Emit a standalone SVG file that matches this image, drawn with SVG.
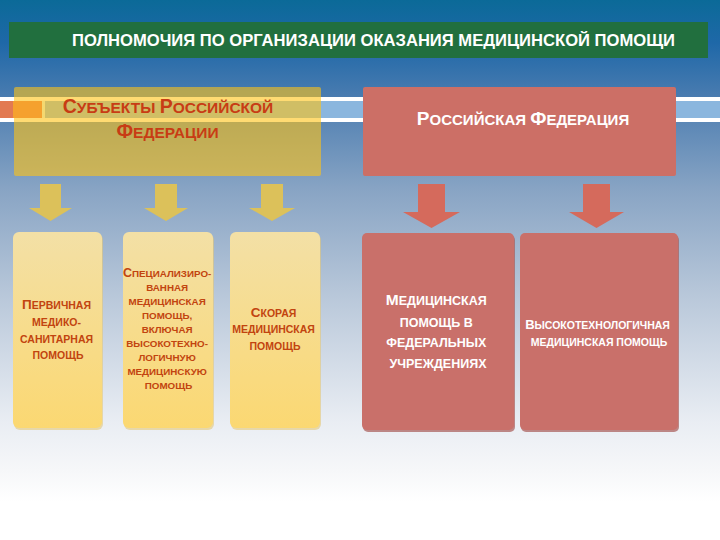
<svg xmlns="http://www.w3.org/2000/svg" width="720" height="540" viewBox="0 0 720 540">
  <defs>
    <linearGradient id="bg" x1="0" y1="0" x2="0" y2="1">
      <stop offset="0" stop-color="#0b6a98"/>
      <stop offset="0.08" stop-color="#1f68a8"/>
      <stop offset="0.18" stop-color="#4a7cb0"/>
      <stop offset="0.35" stop-color="#88a4c4"/>
      <stop offset="0.55" stop-color="#b9c8da"/>
      <stop offset="0.78" stop-color="#e9edf3"/>
      <stop offset="0.87" stop-color="#f6f7f9"/>
      <stop offset="0.93" stop-color="#ffffff"/>
    </linearGradient>
    <linearGradient id="yel" x1="0" y1="0" x2="0" y2="1">
      <stop offset="0" stop-color="#f3e0a6"/>
      <stop offset="1" stop-color="#fbd872"/>
    </linearGradient>
    <style>
      .t{font-family:"Liberation Sans",Arial,sans-serif;font-weight:bold;text-anchor:middle}
      .ytxt{fill:#c2440f}
      .wtxt{fill:#ffffff}
      .ybox{fill:url(#yel)}
      .yshadow{fill:#e4c878;opacity:0.6}
      .rbox{fill:#c9706a}
      .rshadow{fill:#a85a55;opacity:0.7}
      .yarrow{fill:#dcc15a}
      .rarrow{fill:#d56a5c}
    </style>
  </defs>

  <!-- background -->
  <rect x="0" y="0" width="720" height="540" fill="url(#bg)"/>

  <!-- decorative band -->
  <rect x="0" y="97" width="720" height="4" fill="#ffffff"/>
  <rect x="0" y="101" width="720" height="17" fill="#8ab6de"/>
  <rect x="0" y="118" width="720" height="4" fill="#ffffff"/>

  <!-- title -->
  <g id="title">
    <rect x="9" y="22" width="699" height="36" fill="#216f3e"/>
    <text class="t wtxt" x="373.5" y="46" font-size="17" textLength="603" lengthAdjust="spacingAndGlyphs">ПОЛНОМОЧИЯ ПО ОРГАНИЗАЦИИ ОКАЗАНИЯ МЕДИЦИНСКОЙ ПОМОЩИ</text>
  </g>

  <!-- left header -->
  <g id="subjects">
    <rect x="14" y="87" width="307" height="89" rx="2" fill="#ffc314" opacity="0.6"/>
    <rect x="0" y="101" width="13" height="17" fill="#e27a52"/>
    <rect x="13" y="101" width="29" height="17" fill="#f5a12e"/>
    <rect x="42" y="101" width="3" height="17" fill="#f4d870"/>
    <text class="t" fill="#c83c14" x="168" y="113" font-size="15.5"><tspan font-size="19.5">С</tspan>УБЪЕКТЫ <tspan font-size="19.5">Р</tspan>ОССИЙСКОЙ</text>
    <text class="t" fill="#c83c14" x="167.5" y="138" font-size="15.5"><tspan font-size="19.5">Ф</tspan>ЕДЕРАЦИИ</text>
  </g>

  <!-- right header -->
  <g id="federation">
    <rect x="363" y="87" width="313" height="89" rx="2" fill="#cc6f66"/>
    <text class="t wtxt" x="523" y="125" font-size="15"><tspan font-size="19">Р</tspan>ОССИЙСКАЯ <tspan font-size="19">Ф</tspan>ЕДЕРАЦИЯ</text>
  </g>

  <!-- connectors -->
  <g id="connectors">
    <polygon class="yarrow" points="40,184 61,184 61,208 72,208 50.5,221 29,208 40,208"/>
    <polygon class="yarrow" points="155,184 177,184 177,208 188,208 166,221 144,208 155,208"/>
    <polygon class="yarrow" points="261,184 283,184 283,208 295,208 272,221 249,208 261,208"/>
    <polygon class="rarrow" points="418,184 445,184 445,212 460,212 431.5,228 403,212 418,212"/>
    <polygon class="rarrow" points="583,184 610,184 610,212 624,212 596.5,228 569,212 583,212"/>
  </g>

  <!-- yellow boxes -->
  <g id="primary">
    <rect class="yshadow" x="14" y="234" width="89" height="196" rx="6"/>
    <rect class="ybox" x="13" y="232" width="89" height="196" rx="6"/>
    <text class="t ytxt" font-size="10.5">
      <tspan x="58" y="309"><tspan font-size="13.5">П</tspan>ЕРВИЧНАЯ</tspan>
      <tspan x="58" y="326">МЕДИКО-</tspan>
      <tspan x="58" y="343">САНИТАРНАЯ</tspan>
      <tspan x="58" y="359">ПОМОЩЬ</tspan>
    </text>
  </g>

  <g id="specialized">
    <rect class="yshadow" x="124" y="234" width="90" height="196" rx="6"/>
    <rect class="ybox" x="123" y="232" width="90" height="196" rx="6"/>
    <text class="t ytxt" font-size="9.8">
      <tspan x="168.5" y="277"><tspan font-size="12.5">С</tspan>ПЕЦИАЛИЗИРО-</tspan>
      <tspan x="168.5" y="291">ВАННАЯ</tspan>
      <tspan x="168.5" y="305">МЕДИЦИНСКАЯ</tspan>
      <tspan x="168.5" y="319">ПОМОЩЬ,</tspan>
      <tspan x="168.5" y="333">ВКЛЮЧАЯ</tspan>
      <tspan x="168.5" y="347">ВЫСОКОТЕХНО-</tspan>
      <tspan x="168.5" y="361">ЛОГИЧНУЮ</tspan>
      <tspan x="168.5" y="375">МЕДИЦИНСКУЮ</tspan>
      <tspan x="168.5" y="389">ПОМОЩЬ</tspan>
    </text>
  </g>

  <g id="emergency">
    <rect class="yshadow" x="231" y="234" width="90" height="196" rx="6"/>
    <rect class="ybox" x="230" y="232" width="90" height="196" rx="6"/>
    <text class="t ytxt" font-size="10.5">
      <tspan x="275" y="317"><tspan font-size="13.5">С</tspan>КОРАЯ</tspan>
      <tspan x="275" y="333">МЕДИЦИНСКАЯ</tspan>
      <tspan x="275" y="350">ПОМОЩЬ</tspan>
    </text>
  </g>

  <!-- red boxes -->
  <g id="federal-institutions">
    <rect class="rshadow" x="363" y="235" width="152" height="197" rx="5"/>
    <rect class="rbox" x="362" y="233" width="152" height="197" rx="5"/>
    <text class="t wtxt" font-size="12.5">
      <tspan x="438" y="305"><tspan font-size="15.5">М</tspan>ЕДИЦИНСКАЯ</tspan>
      <tspan x="438" y="327">ПОМОЩЬ В</tspan>
      <tspan x="438" y="347">ФЕДЕРАЛЬНЫХ</tspan>
      <tspan x="438" y="368">УЧРЕЖДЕНИЯХ</tspan>
    </text>
  </g>

  <g id="high-tech">
    <rect class="rshadow" x="521" y="235" width="158" height="197" rx="5"/>
    <rect class="rbox" x="520" y="233" width="158" height="197" rx="5"/>
    <text class="t wtxt" font-size="10.5" font-weight="normal">
      <tspan x="599" y="329"><tspan font-size="13" font-weight="bold">В</tspan>ЫСОКОТЕХНОЛОГИЧНАЯ</tspan>
      <tspan x="599" y="346">МЕДИЦИНСКАЯ ПОМОЩЬ</tspan>
    </text>
  </g>
</svg>
